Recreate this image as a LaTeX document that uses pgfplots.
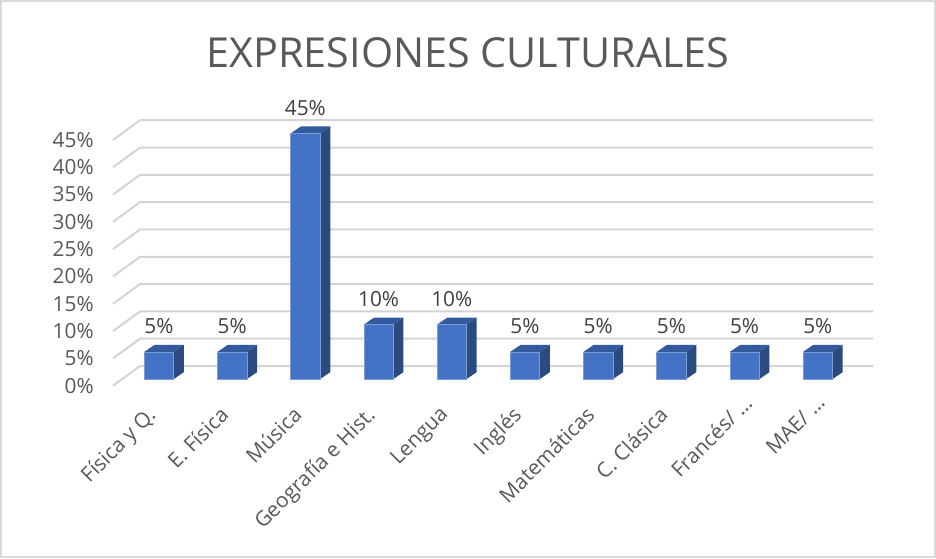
\documentclass[border=0pt]{standalone}
\usepackage{pgfplots}
\pgfplotsset{compat=1.18}
\usepackage{fontspec}
\setmainfont{Open Sans}
\definecolor{barfront}{HTML}{4472C4}
\definecolor{barside}{HTML}{2A4A80}
\definecolor{bartop}{HTML}{335A9C}
\definecolor{gridc}{HTML}{D4D4D4}
\definecolor{framec}{HTML}{D9D9D9}
\definecolor{txt}{HTML}{595959}
\definecolor{lbl}{HTML}{404040}
\begin{document}
\begin{tikzpicture}[x=0.75pt,y=0.75pt]
\draw[draw=framec,line width=1.5pt,fill=white] (1,1) rectangle (935,557);
\path (0,0) rectangle (936,558);
\node[text=txt,font=\fontsize{31pt}{36pt}\selectfont] at (468,505.5) {EXPRESIONES CULTURALES};
\begin{axis}[
    at={(113pt*0.75,172.3pt*0.75)},
    anchor=south west,
    scale only axis,
    width=570pt,
    height=199.5pt,
    xmin=-0.628, xmax=9.754,
    ymin=-1.2, ymax=47.5,
    axis line style={draw=none},
    clip=false,
    major tick length=0pt,
    ytick={-1.2,3.8,8.8,13.8,18.8,23.8,28.8,33.8,38.8,43.8},
    yticklabels={0\%,5\%,10\%,15\%,20\%,25\%,30\%,35\%,40\%,45\%},
    xtick={0,1,2,3,4,5,6,7,8,9},
    xticklabels={Física y Q.,E. Física,Música,Geografía e Hist.,Lengua,Inglés,Matemáticas,C. Clásica,Francés/ …\hspace*{-12pt},MAE/ …\hspace*{-12pt}},
    yticklabel style={text=txt,font=\fontsize{15.6pt}{18pt}\selectfont,xshift=-11pt},
    xticklabel style={text=txt,font=\fontsize{15.6pt}{18pt}\selectfont,rotate=45,anchor=north east,yshift=0.4pt,xshift=-14pt},
]
% rejilla
\pgfplotsinvokeforeach{0,5,10,15,20,25,30,35,40,45}{
  \addplot[gridc,line width=1.5pt,forget plot] coordinates {(-0.628,#1-1.2) (-0.259,#1+2.4) (9.754,#1+2.4)};
}
% caras frontales, laterales y superiores
\pgfplotsforeachungrouped \i/\v in {0/5,1/5,2/45,3/10,4/10,5/5,6/5,7/5,8/5,9/5}{
  \edef\tmp{\noexpand\addplot[fill=barside,draw=none,forget plot] coordinates {(\i+0.2,0) (\i+0.34,1.28) (\i+0.34,\v+1.28) (\i+0.2,\v)} -- cycle;
  \noexpand\addplot[fill=bartop,draw=none,forget plot] coordinates {(\i-0.2,\v) (\i-0.06,\v+1.28) (\i+0.34,\v+1.28) (\i+0.2,\v)} -- cycle;
  \noexpand\addplot[fill=barfront,draw=barfront!70!white,line width=0.4pt,forget plot] coordinates {(\i-0.2,0) (\i-0.2,\v) (\i+0.2,\v) (\i+0.2,0)} -- cycle;
  \noexpand\node[text=lbl,font=\noexpand\fontsize{15.6pt}{18pt}\noexpand\selectfont,anchor=south] at (axis cs:\i,\v+2.4) {\v\noexpand\%};}
  \tmp
}
\end{axis}
\end{tikzpicture}
\end{document}
